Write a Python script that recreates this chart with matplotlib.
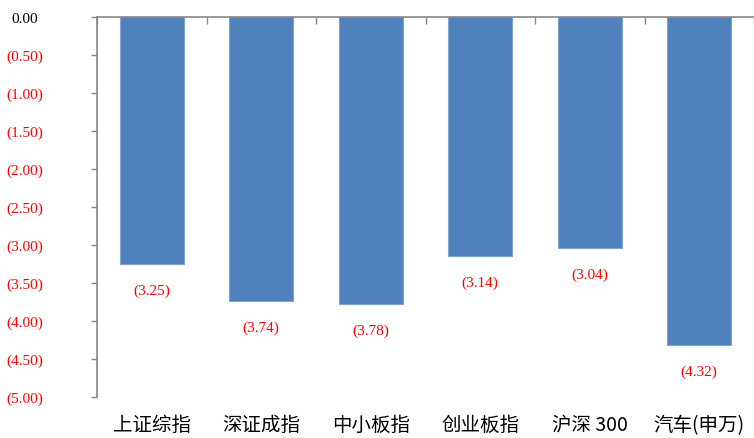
import numpy as np
import matplotlib.pyplot as plt

plt.rcParams['font.family'] = ['Noto Sans CJK SC', 'DejaVu Sans']

categories = ['上证综指', '深证成指', '中小板指', '创业板指', '沪深 300', '汽车(申万)']
changes = [-3.25, -3.74, -3.78, -3.14, -3.04, -4.32]
y_ticks = [0, -0.5, -1.0, -1.5, -2.0, -2.5, -3.0, -3.5, -4.0, -4.5, -5.0]


def fmt(v):
    # excel style: 0.00_);[Red](0.00)
    if v < 0:
        return '(%.2f)' % abs(v)
    return '%.2f' % v


fig = plt.figure(figsize=(7.54, 4.39), dpi=100)
ax = fig.add_axes([97 / 754, 1 - 398 / 439, 1 - 97 / 754, 380 / 439])

x = np.arange(len(categories))
ax.bar(x, changes, width=0.58, color='#4F81BD', edgecolor='#7FA3CF', linewidth=0.8, zorder=2)

# data labels under each bar
for xi, v in zip(x, changes):
    ax.annotate(fmt(v), (xi, v), xytext=(0, -19), textcoords='offset points',
                ha='center', va='center', color='red', fontsize=11,
                family=['Liberation Serif', 'DejaVu Serif'])

ax.set_xlim(-0.5, len(categories) - 0.5)
ax.set_ylim(-5.0, 0)

ax.set_yticks(y_ticks)
ax.set_yticklabels([fmt(v) for v in y_ticks])
for lab, v in zip(ax.get_yticklabels(), y_ticks):
    lab.set_color('red' if v < 0 else 'black')
    lab.set_ha('center')
    lab.set_fontfamily(['Liberation Serif', 'DejaVu Serif'])
    lab.set_fontsize(11)
ax.tick_params(axis='y', direction='out', length=4, width=1, color='#868686', pad=48)

ax.set_xticks(x)
ax.set_xticklabels(categories, fontsize=14)
ax.tick_params(axis='x', which='major', length=0, pad=12)

# category separators on the zero line
ax.set_xticks(np.arange(len(categories) + 1) - 0.5, minor=True)
ax.tick_params(axis='x', which='minor', top=True, bottom=False, direction='in',
               length=5, width=1, color='#868686')

for side in ['right', 'bottom']:
    ax.spines[side].set_visible(False)
for side in ['left', 'top']:
    ax.spines[side].set_color('#868686')
    ax.spines[side].set_linewidth(1.2)

fig.savefig('out.png', dpi=100)
